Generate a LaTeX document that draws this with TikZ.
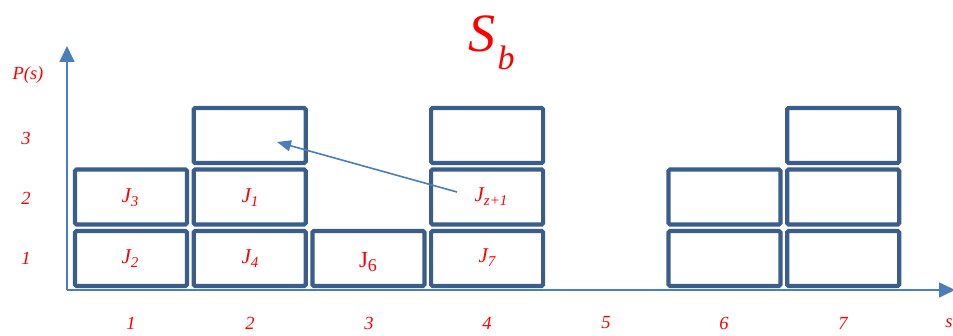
\documentclass[tikz,border=0pt]{standalone}
\usepackage{fontspec}
\setmainfont{Liberation Serif}
\usetikzlibrary{arrows.meta}
\definecolor{boxblue}{HTML}{3B5D8C}
\definecolor{axisblue}{HTML}{4A7EBB}
\definecolor{lblred}{HTML}{FF0000}
\begin{document}
\begin{tikzpicture}[x=1pt,y=-1pt,
  jobbox/.style={draw=boxblue, line width=4.2pt, rounded corners=1.5pt},
  lbl/.style={text=lblred, font=\fontsize{18.5}{18.5}\selectfont\itshape, inner sep=0pt},
  jl/.style={text=lblred, font=\fontsize{21}{21}\selectfont\itshape, inner sep=0pt},
  axisline/.style={draw=axisblue, line width=1.6pt},
  axtip/.style={-{Triangle[width=15pt,length=16pt]}}]
\useasboundingbox (0,0) rectangle (953,336);
% axes
\coordinate (o) at (67,290);
\coordinate (ytop) at (67,46);
\coordinate (xend) at (955,290);
\draw[axisline, axtip, fill=axisblue] (o) -- (ytop);
\draw[axisline, axtip, fill=axisblue] (o) -- (xend);
% boxes
\foreach \c/\r/\nm in {1/1/b11,1/2/b12,2/1/b21,2/2/b22,2/3/b23,3/1/b31,4/1/b41,4/2/b42,4/3/b43,6/1/b61,6/2/b62,7/1/b71,7/2/b72,7/3/b73}{
  \pgfmathsetmacro{\xl}{75+(\c-1)*118.7}
  \pgfmathsetmacro{\xr}{\xl+112}
  \pgfmathsetmacro{\yb}{286-(\r-1)*61.5}
  \pgfmathsetmacro{\yt}{\yb-55}
  \draw[jobbox] (\xl,\yt) rectangle (\xr,\yb);
  \node[coordinate] (\nm) at ({(\xl+\xr)/2},{(\yt+\yb)/2}) {};
}
% box labels
\newcommand{\jsub}[1]{\raisebox{-4pt}{\fontsize{15}{15}\selectfont #1}}
\node[jl] (j2) at (130,259) {J\jsub{2}};
\node[jl] (j3) at (130,198) {J\jsub{3}};
\node[jl] (j4) at (250,259) {J\jsub{4}};
\node[jl] (j1) at (250,198) {J\jsub{1}};
\node[text=lblred, font=\fontsize{23}{23}\selectfont, inner sep=0pt] (j6) at (368,262) {J\raisebox{-4pt}{\fontsize{18}{18}\selectfont 6}};
\node[jl] (j7) at (487,258) {J\jsub{7}};
\node[jl] (jz) at (491,197) {J\jsub{z+1}};
% arrow
\coordinate (as) at (457,192);
\coordinate (ae) at (277,142);
\draw[axisline, -{Triangle[width=11pt,length=14pt]}, fill=axisblue] (as) -- (ae);
% axis labels
\node[lbl] (ps) at (28,75) {P(s)};
\node[lbl] (y3) at (26,138) {3};
\node[lbl] (y2) at (26,198) {2};
\node[lbl] (y1) at (26,258) {1};
\foreach \i/\xx in {1/131,2/250,3/369,4/487,5/606,6/724,7/843}{
  \node[lbl] (x\i) at (\xx,323) {\i};
}
\node[lbl] (xs) at (949,323) {s};
% title
\node[text=lblred, font=\fontsize{54}{54}\selectfont\itshape, inner sep=0pt, anchor=base] (title) at (482,52) {S};
\node[text=lblred, font=\fontsize{34}{34}\selectfont\itshape, inner sep=0pt, anchor=base] (titleb) at (506,70) {b};
\end{tikzpicture}
\end{document}
